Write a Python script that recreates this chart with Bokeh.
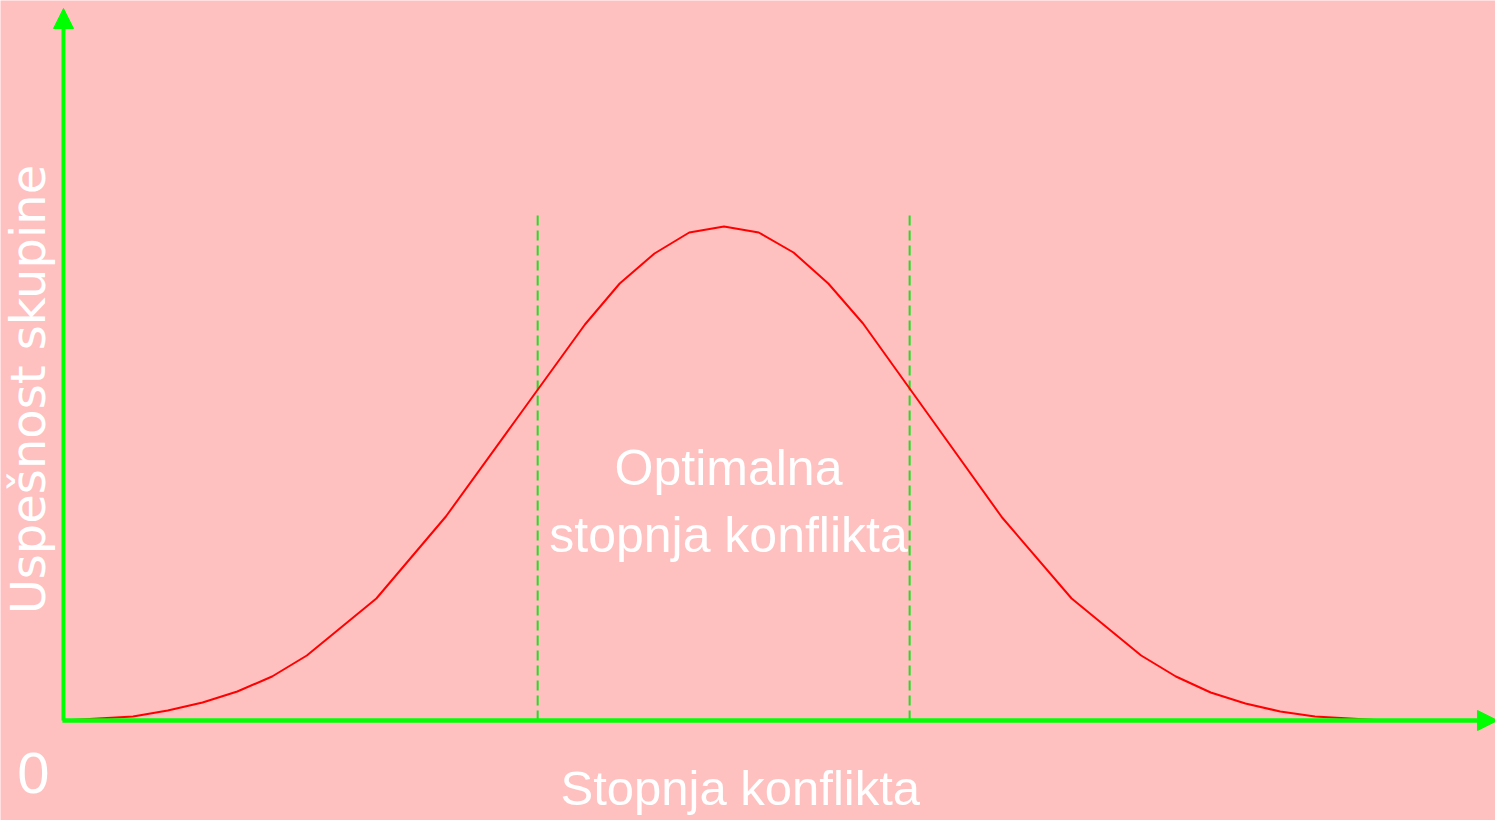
import math
from bokeh.plotting import figure
from bokeh.models import Range1d, Arrow, NormalHead, Label
from bokeh.embed import file_html
from bokeh.resources import INLINE

# ---- data ----
# conflict level (sample index) and group performance (arbitrary units)
conflict_level = [0, 2, 3, 4, 5, 6, 7, 9, 11, 13, 15, 16, 17, 18, 19, 20, 21, 22,
                  23, 25, 27, 29, 31, 32, 33, 34, 35, 36, 38]
performance = [0, 4, 10, 18, 29, 44, 65, 122, 204, 300, 396, 437, 467, 488, 494, 488,
               468, 437, 397, 300, 203, 122, 65, 44, 28, 17, 9, 4, 0]
optimal_bounds = [13.64, 24.34]
optimal_top = 510
x_axis_label = "Stopnja konflikta"
y_axis_label = "Uspešnost skupine"
origin_label = "0"
optimal_label = ["Optimalna", "stopnja konflikta"]

BG = "#FFC0C0"
GREEN = "#00FF00"

p = figure(width=1495, height=820, output_backend="svg", toolbar_location=None,
           x_range=Range1d(-1.812, 41.193), y_range=Range1d(-100, 720),
           x_axis_type=None, y_axis_type=None, min_border=0,
           background_fill_color=BG, border_fill_color=BG, outline_line_color=None)
p.xgrid.visible = False
p.ygrid.visible = False

# dashed bounds of the optimal zone
for xb in optimal_bounds:
    p.line([xb, xb], [0, optimal_top], line_color="#22DD22", line_width=2,
           line_dash="10 5")

# performance curve
p.line(conflict_level, performance, line_color="#FF0000", line_width=2)

# axes with arrow heads
p.add_layout(Arrow(end=NormalHead(size=20, fill_color=GREEN, line_color=GREEN),
                   x_start=0, y_start=0, x_end=0, y_end=712,
                   line_color=GREEN, line_width=4))
p.add_layout(Arrow(end=NormalHead(size=20, fill_color=GREEN, line_color=GREEN),
                   x_start=-0.03, y_start=0, x_end=41.25, y_end=0,
                   line_color=GREEN, line_width=4.5))

sans = "Liberation Sans"

p.add_layout(Label(x=19.13, y=253, text=optimal_label[0], text_align="center",
                   text_baseline="alphabetic", text_color="white",
                   text_font=sans, text_font_size="50px"))
p.add_layout(Label(x=19.13, y=186, text=optimal_label[1], text_align="center",
                   text_baseline="alphabetic", text_color="white",
                   text_font=sans, text_font_size="50px"))
p.add_layout(Label(x=19.47, y=-67, text=x_axis_label, text_align="center",
                   text_baseline="alphabetic", text_color="white",
                   text_font=sans, text_font_size="49px"))
p.add_layout(Label(x=-0.863, y=-52, text=origin_label, text_align="center",
                   text_baseline="alphabetic", text_color="white",
                   text_font=sans, text_font_size="58px"))
p.add_layout(Label(x=-1.007, y=331, text=y_axis_label,
                   text_align="center",
                   text_baseline="alphabetic", text_color="white", angle=math.pi / 2,
                   text_font="DejaVu Sans", text_font_size="48px"))

html = file_html(p, INLINE)
if "<body>" in html:
    html = html.replace("<body>", '<body style="margin:0;overflow:hidden;background:%s">' % BG, 1)
open("out.html", "w").write(html)
